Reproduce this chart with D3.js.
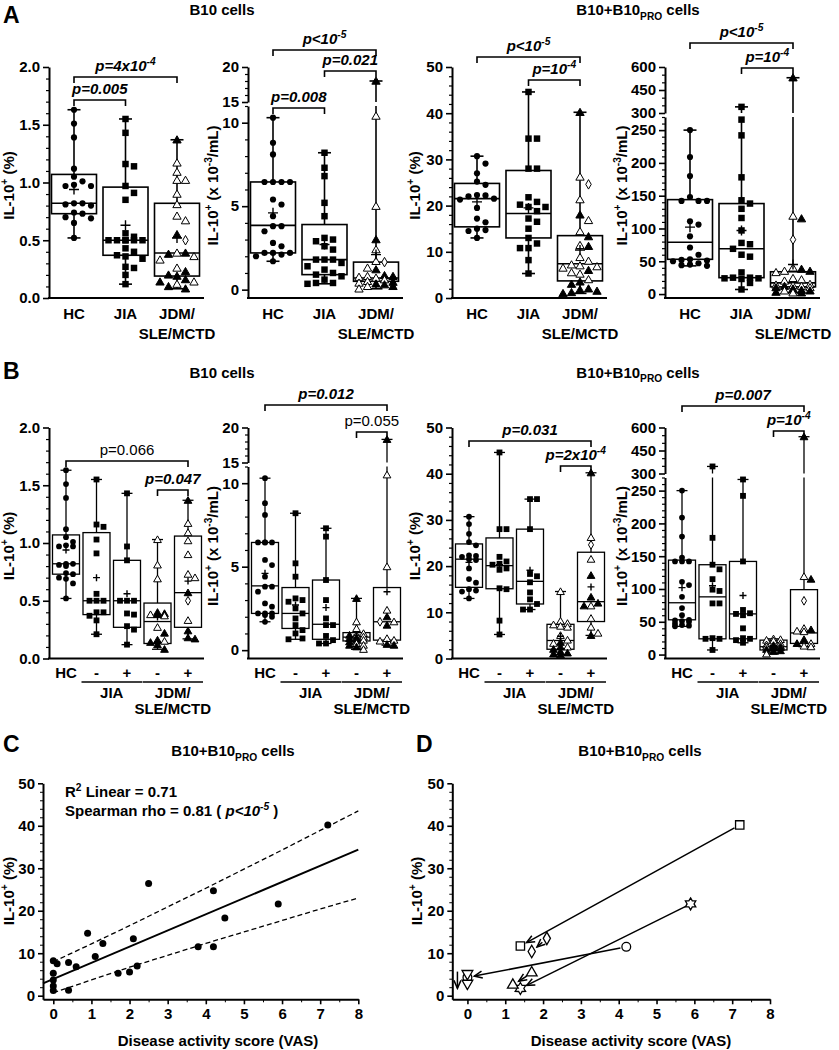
<!DOCTYPE html>
<html><head><meta charset="utf-8">
<script src="https://cdn.jsdelivr.net/npm/d3@7/dist/d3.min.js"></script>
<style>body{margin:0;background:#fff}</style>
</head><body><script>
// ================= DATA =================
const catsA = ["HC", "JIA", "JDM/|SLE/MCTD"];
const signsB = ["HC", "-", "+", "-", "+"];
const groupLabelsB = ["JIA", "JDM/|SLE/MCTD"];
const titlesTop = ["B10 cells", "B10+B10_{PRO} cells"];
const yLabels = ["IL-10^{+} (%)", "IL-10^{+} (x 10^{-3}/mL)", "IL-10^{+} (%)", "IL-10^{+} (x 10^{-3}/mL)"];
const panelLetters = ["A", "B", "C", "D"];

// y tick labels
const ticks1 = [0, 0.5, 1.0, 1.5, 2.0];
const ticks2lo = [0, 5, 10], ticks2hi = [15, 20];
const ticks3 = [0, 10, 20, 30, 40, 50];
const ticks4lo = [0, 50, 100, 150, 200, 250], ticks4hi = [300, 450, 600];
const ticksVAS = [0, 1, 2, 3, 4, 5, 6, 7, 8];
const ticksIL = [0, 10, 20, 30, 40, 50];

// ---- Panel A, B10 % ----
const A1_HC = [1.63,1.51,1.39,1.12,1.05,1.01,0.98,0.97,0.97,0.82,0.82,0.81,0.80,0.74,0.73,0.70,0.69,0.65,0.52];
const A1_JIA = [1.55,1.43,1.16,1.14,0.97,0.91,0.85,0.56,0.53,0.50,0.50,0.50,0.50,0.50,0.50,0.43,0.40,0.37,0.36,0.34,0.27,0.26,0.20,0.12];
const A1_JDM_open = [1.17,1.09,1.02,1.02,0.90,0.81,0.71,0.67,0.39,0.36,0.33,0.26,0.14,0.12];
const A1_JDM_fill = [1.37,0.55,0.39,0.38,0.23,0.20,0.19,0.16,0.14,0.10,0.08];
const A1_JDM_dia = [0.50];
const A1_box = [[0.52,0.73,0.82,1.07,1.63,0.94],[0.12,0.37,0.50,0.96,1.55,0.63],[0.08,0.19,0.39,0.82,1.37,0.52]];
// ---- Panel A, B10 count ----
const A2_HC = [10.3,8.8,8.1,6.45,6.45,6.45,6.45,5.4,5.1,4.4,3.8,3.8,3.5,2.8,2.6,2.2,2.2,2.2,2.1,2.0,1.7];
const A2_JIA = [8.2,7.3,6.8,5.2,4.4,3.1,3.0,2.9,2.6,2.4,1.8,1.8,1.8,1.6,1.4,1.2,1.0,0.9,0.8,0.6,0.4,0.4,0.35];
const A2_JDM_open = [10.4,5.0,2.4,1.7,1.3,0.8,0.75,0.7,0.6,0.5,0.4,0.2,0.05];
const A2_JDM_fill = [18.0,3.0,1.2,0.85,0.8,0.45,0.35,0.3,0.2];
const A2_JDM_dia = [1.65];
const A2_box = [[1.7,2.2,3.85,6.45,10.3,4.6],[0.35,0.9,1.8,3.9,8.2,2.7],[0.05,0.5,0.7,1.65,18.0,2.1]];
// ---- Panel A, B10+B10PRO % ----
const A3_HC = [30.7,29.1,27.0,25.2,24.5,22.3,22.2,22.0,21.5,21.3,19.5,17.2,16.4,15.0,14.7,14.5,13.0];
const A3_JIA = [44.6,34.5,34.5,28.0,28.0,21.8,20.8,20.2,19.7,19.7,18.8,17.2,16.5,15.0,13.0,11.8,10.8,10.8,8.2,5.3];
const A3_JDM_open = [26.2,21.3,16.8,14.4,11.4,8.8,8.0,7.2,7.0,6.8,6.5,5.5,5.2,4.0];
const A3_JDM_fill = [40.2,18.0,13.3,11.2,6.0,3.5,3.0,2.0,1.8,1.5,1.2,1.0];
const A3_JDM_dia = [24.6];
const A3_box = [[13.0,15.4,21.5,24.8,30.7,20.8],[5.3,13.0,18.3,27.6,44.6,19.5],[1.0,3.7,7.4,13.5,40.2,10.4]];
// ---- Panel A, B10+B10PRO count ----
const A4_HC = [250,209,180,148,142,142,142,111,106,88,71,60,53,52,51,50,47,45,44,43];
const A4_JIA = [340,266,242,178,143,138,130,116,97,78,76,69,60,57,33,25,25,24,24,23,17,7];
const A4_JDM_open = [119,40,35,33,24,22,20,15,14,13,12,10,5,2];
const A4_JDM_fill = [530,115,38,35,12,10,8,6,5,3,2];
const A4_JDM_dia = [83];
const A4_box = [[43,53,79,144,250,102],[7,25,69,138,340,97],[2,11,17,34,530,45]];

// ---- Panel B (HC, JIA-, JIA+, JDM-, JDM+) ----
const B1_JIAn = [1.55,1.16,1.14,1.03,0.91,0.56,0.50,0.50,0.50,0.40,0.40,0.37,0.33,0.21];
const B1_JIAp = [1.43,0.97,0.85,0.50,0.50,0.50,0.39,0.38,0.28,0.25,0.12];
const B1_JDMn_open = [1.03,0.81,0.69,0.38,0.37,0.27,0.15];
const B1_JDMn_fill = [0.40,0.39,0.38,0.22,0.16,0.14,0.12,0.08];
const B1_JDMp_open = [1.17,1.09,1.02,0.90,0.73,0.70,0.33];
const B1_JDMp_fill = [1.37,0.57,0.24,0.18,0.17];
const B1_JDMp_dia = [0.50];
const B1_box = [[0.52,0.73,0.82,1.07,1.63,0.94],[0.21,0.38,0.50,1.09,1.55,0.70],[0.12,0.27,0.50,0.85,1.43,0.56],[0.08,0.13,0.32,0.48,1.03,0.36],[0.17,0.27,0.57,1.06,1.37,0.67]];

const B2_JIAn = [8.2,5.2,4.4,3.1,3.0,2.9,2.5,2.2,1.9,1.5,1.2,1.0,0.7,0.65];
const B2_JIAp = [7.3,6.8,4.2,3.0,1.9,1.5,1.5,0.85,0.6,0.4,0.4];
const B2_JDMn_open = [1.7,1.3,1.0,0.9,0.8,0.6,0.4,0.3,0.05];
const B2_JDMn_fill = [3.1,0.9,0.75,0.7,0.6,0.5,0.3,0.2];
const B2_JDMp_open = [10.5,5.0,2.4,1.7,0.7,0.6,0.55];
const B2_JDMp_fill = [18.3,2.0,1.5,0.35,0.3];
const B2_JDMp_dia = [1.7];
const B2_box = [[1.7,2.2,3.85,6.45,10.3,4.6],[0.65,1.3,2.2,3.75,8.2,2.7],[0.4,0.65,1.55,4.2,7.3,2.55],[0.05,0.55,0.78,1.05,3.1,0.9],[0.3,0.6,1.7,3.75,18.3,3.5]];

const B3_JIAn = [44.6,28.0,28.0,22.0,21.0,20.5,20.3,19.5,19.2,15.2,15.0,8.2,5.2];
const B3_JIAp = [34.5,34.5,28.0,18.3,17.8,16.5,14.3,12.8,11.8,10.6,10.6];
const B3_JDMn_open = [14.5,8.1,7.6,7.3,7.0,6.8,5.0,4.0,3.3,2.5];
const B3_JDMn_fill = [3.5,2.5,2.0,1.5,1.2,1.0,0.8];
const B3_JDMp_open = [26.2,21.5,11.4,8.7,6.8,5.5];
const B3_JDMp_fill = [40.2,18.0,13.3,12.0,11.4,5.0];
const B3_JDMp_dia = [24.6];
const B3_box = [[13.0,15.4,21.5,24.8,30.7,20.8],[5.2,15.1,20.1,26.1,44.6,20.3],[10.6,11.8,16.7,28.0,34.5,19.1],[0.8,2.0,3.9,7.4,14.5,4.8],[5.0,8.0,12.3,23.0,40.2,15.5]];

const B4_JIAn = [346,178,137,130,115,99,97,78,78,25,24,24,7];
const B4_JIAp = [267,242,142,68,63,62,60,40,25,24,22,18];
const B4_JDMn_open = [24,23,22,21,17,15,13,12,1];
const B4_JDMn_fill = [14,12,11,10,8,6,5];
const B4_JDMp_open = [119,40,36,35,17,13,12];
const B4_JDMp_fill = [540,115,38,23,17];
const B4_JDMp_dia = [82];
const B4_box = [[43,53,79,144,250,102],[7,24,88,137,346,105],[18,24,62,142,267,90],[1,7,12,22,24,14],[12,17,33,99,540,null]];

// p values
const pvalsA = [["p=4x10^{-4}","p=0.005"],["p<10^{-5}","p=0.021","p=0.008"],["p<10^{-5}","p=10^{-4}"],["p<10^{-5}","p=10^{-4}"]];
const pvalsB = [["p=0.066","p=0.047"],["p=0.012","p=0.055"],["p=0.031","p=2x10^{-4}"],["p=0.007","p=10^{-4}"]];
const pSignifB = [[false,true],[true,false],[true,true],[true,true]];

// ---- Panel C ----
const cVAS = [0,0.1,0,0,0,0,0.4,0.4,0.6,0.9,1.1,1.3,1.7,2.0,2.1,2.2,2.5,3.8,4.2,4.2,4.5,5.9,7.2];
const cIL10 = [8.2,7.5,5.3,3.7,2.3,1.2,1.3,7.8,6.8,14.7,9.2,12.3,5.3,5.6,13.4,7.0,26.4,11.5,11.5,24.7,18.3,21.6,40.2];
const cFitX = [-0.27, 8], cFitY = [2.9, 34.4];
const cBandX = [0,1,2,3,4,5,6,7,8];
const cUpper = [8.0,12.2,16.5,20.9,25.3,29.8,34.3,38.9,43.5];
const cLower = [0.7,3.7,6.7,9.5,12.3,15.0,17.7,20.4,23.0];
const cStats = ["R^{2} Linear = 0.71", "Spearman rho = 0.81 ( *p<10^{-5}* )"];
// ---- Panel D ----
const dShape = ["square","diamond","star","circle","triangle","triangleDown"];
const dVAS1 = [7.2,2.1,5.9,4.2,1.7,0], dIL1 = [40.2,13.5,21.6,11.5,5.4,5.2];
const dVAS2 = [1.4,1.7,1.4,0,1.2,0],   dIL2 = [11.7,10.4,1.7,4.3,2.5,2.9];
const xTitle = "Disease activity score (VAS)";

// ================= DRAWING =================
const FONT = '"Liberation Sans", Arial, Helvetica, sans-serif';
const svg = d3.select("body").append("svg").attr("width", 839).attr("height", 1050)
  .style("font-family", FONT);
svg.append("rect").attr("width", 839).attr("height", 1050).attr("fill", "#fff");

// rich text: ^{sup} _{sub} *italic*
function rich(t, str, size) {
  const parts = str.split(/(\^\{[^}]*\}|_\{[^}]*\}|\*[^*]*\*)/).filter(s => s.length);
  let cur = 0;
  parts.forEach(p => {
    let mode = "", txt = p;
    if (p.startsWith("^{")) { mode = "sup"; txt = p.slice(2, -1); }
    else if (p.startsWith("_{")) { mode = "sub"; txt = p.slice(2, -1); }
    else if (p.startsWith("*")) { mode = "it"; txt = p.slice(1, -1); }
    if (mode === "it") {
      const sub = txt.split(/(\^\{[^}]*\})/).filter(s => s.length);
      sub.forEach(q => {
        let m2 = "", t2 = q;
        if (q.startsWith("^{")) { m2 = "sup"; t2 = q.slice(2, -1); }
        const target = m2 === "sup" ? -0.42 * size : 0;
        const ts = t.append("tspan").text(t2).attr("dy", target - cur).style("font-style", "italic");
        if (m2) ts.style("font-size", (size * 0.68) + "px");
        cur = target;
      });
      return;
    }
    const target = mode === "sup" ? -0.42 * size : mode === "sub" ? 0.3 * size : 0;
    const ts = t.append("tspan").text(txt).attr("dy", target - cur);
    if (mode) ts.style("font-size", (size * 0.68) + "px");
    cur = target;
  });
  return t;
}
function label(g, x, y, str, size, opts = {}) {
  const t = g.append("text").attr("x", x).attr("y", y)
    .attr("text-anchor", opts.anchor || "middle")
    .style("font-size", size + "px")
    .style("font-weight", opts.weight || "bold")
    .style("font-style", opts.style || "normal")
    .attr("fill", "#000");
  if (opts.rotate) t.attr("transform", `rotate(-90,${x},${y})`);
  return rich(t, str, size);
}

// layout
const colX = [49, 248, 452, 665];
const rowTop = [67, 427.5], rowBot = [298, 658.5];
const plotW = 155;
const colCfg = [
  { broken: false, domain: [0, 2], major: ticks1, minor: 0.1, fmt: d3.format(".1f") },
  { broken: true, low: [-0.5, 11], high: [15, 20], lowTopOff: 39, highBotOff: 35, majorLo: ticks2lo, majorHi: ticks2hi, minorLo: 1, minorHi: 1, fmt: d3.format("d") },
  { broken: false, domain: [0, 50], major: ticks3, minor: 2, fmt: d3.format("d") },
  { broken: true, low: [-6, 270], high: [300, 600], lowTopOff: 50, highBotOff: 46, majorLo: ticks4lo, majorHi: ticks4hi, minorLo: 10, minorHi: 50, fmt: d3.format("d") }
];

function axisSeg(g, x, scale, major, minorStep, fmt, from, to) {
  const ax = d3.axisLeft(scale).tickValues(major).tickSize(6).tickSizeOuter(0).tickPadding(3).tickFormat(fmt);
  const ag = g.append("g").attr("transform", `translate(${x},0)`).call(ax)
    .attr("font-family", null).attr("font-size", null);
  ag.select(".domain").attr("stroke", "#000").attr("stroke-width", 2);
  ag.selectAll(".tick line").attr("stroke", "#000").attr("stroke-width", 1.6);
  ag.selectAll(".tick text").style("font-size", "15px").style("font-weight", "bold").attr("fill", "#000");
  const minors = d3.range(from, to + 1e-9, minorStep).filter(v => !major.some(m => Math.abs(m - v) < 1e-9));
  const mg = g.append("g").attr("transform", `translate(${x},0)`)
    .call(d3.axisLeft(scale).tickValues(minors).tickSize(3).tickSizeOuter(0).tickFormat(""));
  mg.select(".domain").remove();
  mg.selectAll(".tick line").attr("stroke", "#000").attr("stroke-width", 1.2);
}

function makeY(cfg, top, bot) {
  if (!cfg.broken) {
    const s = d3.scaleLinear().domain(cfg.domain).range([bot, top]);
    return { f: v => s(v), s };
  }
  const lo = d3.scaleLinear().domain(cfg.low).range([bot, top + cfg.lowTopOff]);
  const hi = d3.scaleLinear().domain(cfg.high).range([top + cfg.highBotOff, top]);
  return { f: v => (v <= cfg.low[1] ? lo(v) : hi(v)), lo, hi, brk: [cfg.low[1], cfg.high[0]] };
}

function drawYAxis(g, x, cfg, Y) {
  if (!cfg.broken) axisSeg(g, x, Y.s, cfg.major, cfg.minor, cfg.fmt, cfg.domain[0], cfg.domain[1]);
  else {
    axisSeg(g, x, Y.lo, cfg.majorLo, cfg.minorLo, cfg.fmt, 0, cfg.low[1]);
    axisSeg(g, x, Y.hi, cfg.majorHi, cfg.minorHi, cfg.fmt, cfg.high[0], cfg.high[1]);
  }
}

function symbolPath(type, size) {
  const map = { circle: d3.symbolCircle, square: d3.symbolSquare, tri: d3.symbolTriangle, triF: d3.symbolTriangle, dia: d3.symbolDiamond };
  return d3.symbol().type(map[type]).size(size)();
}
const symStyle = {
  circle: { fill: "#000", stroke: "none" }, square: { fill: "#000", stroke: "none" },
  triF: { fill: "#000", stroke: "#000" }, tri: { fill: "#fff", stroke: "#000" }, dia: { fill: "#fff", stroke: "#000" }
};

function swarm(pts, yf, step, maxOff) {
  const placed = [];
  pts.slice().sort((a, b) => b.v - a.v).forEach(p => {
    const y = yf(p.v);
    const cands = [0];
    for (let k = 1; k * step <= maxOff + 0.01; k++) cands.push(k * step, -k * step);
    let best = 0, bestD = -1;
    for (const dx of cands) {
      let minD = Infinity;
      for (const q of placed) minD = Math.min(minD, Math.hypot(q.dx - dx, q.y - y));
      if (minD >= step * 0.92) { best = dx; bestD = Infinity; break; }
      if (minD > bestD) { bestD = minD; best = dx; }
    }
    placed.push({ ...p, dx: best, y });
  });
  return placed;
}

function vline(g, x, Y, a, b, w) {
  const seg = (u, v) => g.append("line").attr("x1", x).attr("x2", x).attr("y1", Y.f(u)).attr("y2", Y.f(v))
    .attr("stroke", "#000").attr("stroke-width", w);
  if (Y.brk && a < Y.brk[0] && b > Y.brk[1]) { seg(a, Y.brk[0]); seg(Y.brk[1], b); }
  else seg(a, b);
}

function drawBoxes(g, xs, Y, groups, o) {
  groups.forEach((grp, i) => {
    const cx = xs[i];
    const [mn, q1, md, q3, mx, mean] = grp.box;
    const hw = o.boxW / 2;
    vline(g, cx, Y, q3, mx, o.lw);
    vline(g, cx, Y, mn, q1, o.lw);
    g.append("rect").attr("x", cx - hw).attr("y", Y.f(q3)).attr("width", o.boxW)
      .attr("height", Y.f(q1) - Y.f(q3)).attr("fill", "none").attr("stroke", "#000").attr("stroke-width", o.lw);
    g.append("line").attr("x1", cx - hw).attr("x2", cx + hw).attr("y1", Y.f(md)).attr("y2", Y.f(md))
      .attr("stroke", "#000").attr("stroke-width", o.lw);
    [mn, mx].forEach(v => g.append("line").attr("x1", cx - o.capW / 2).attr("x2", cx + o.capW / 2)
      .attr("y1", Y.f(v)).attr("y2", Y.f(v)).attr("stroke", "#000").attr("stroke-width", o.lw));
    const placed = swarm(grp.pts, Y.f, o.step, o.maxOff);
    placed.forEach(p => {
      const st = symStyle[p.t];
      const sz = o.sizes[p.t];
      g.append("path").attr("d", symbolPath(p.t, sz))
        .attr("transform", `translate(${cx + p.dx},${p.y + (p.t === "tri" || p.t === "triF" ? 0.8 : 0)})`)
        .attr("fill", st.fill).attr("stroke", st.stroke).attr("stroke-width", 1);
    });
    if (mean != null) {
      const my = Y.f(mean), m = o.plus;
      g.append("path").attr("d", `M${cx - m},${my}H${cx + m}M${cx},${my - m}V${my + m}`)
        .attr("stroke", "#000").attr("stroke-width", 1.4).attr("fill", "none");
    }
  });
}

function bracket(g, x1, x2, y, txt, signif) {
  g.append("path").attr("d", `M${x1},${y + 6}V${y}H${x2}V${y + 6}`).attr("fill", "none")
    .attr("stroke", "#000").attr("stroke-width", 1.6);
  label(g, (x1 + x2) / 2, y - 6, txt, 15, { weight: signif ? "bold" : "normal", style: signif ? "italic" : "normal" });
}

const pts = (arr, t) => arr.map(v => ({ v, t }));

const groupsA = [
  [{ box: A1_box[0], pts: pts(A1_HC, "circle") }, { box: A1_box[1], pts: pts(A1_JIA, "square") },
   { box: A1_box[2], pts: [...pts(A1_JDM_open, "tri"), ...pts(A1_JDM_fill, "triF"), ...pts(A1_JDM_dia, "dia")] }],
  [{ box: A2_box[0], pts: pts(A2_HC, "circle") }, { box: A2_box[1], pts: pts(A2_JIA, "square") },
   { box: A2_box[2], pts: [...pts(A2_JDM_open, "tri"), ...pts(A2_JDM_fill, "triF"), ...pts(A2_JDM_dia, "dia")] }],
  [{ box: A3_box[0], pts: pts(A3_HC, "circle") }, { box: A3_box[1], pts: pts(A3_JIA, "square") },
   { box: A3_box[2], pts: [...pts(A3_JDM_open, "tri"), ...pts(A3_JDM_fill, "triF"), ...pts(A3_JDM_dia, "dia")] }],
  [{ box: A4_box[0], pts: pts(A4_HC, "circle") }, { box: A4_box[1], pts: pts(A4_JIA, "square") },
   { box: A4_box[2], pts: [...pts(A4_JDM_open, "tri"), ...pts(A4_JDM_fill, "triF"), ...pts(A4_JDM_dia, "dia")] }]
];
const hcB = [A1_HC, A2_HC, A3_HC, A4_HC];
const bSets = [
  [B1_JIAn, B1_JIAp, B1_JDMn_open, B1_JDMn_fill, B1_JDMp_open, B1_JDMp_fill, B1_JDMp_dia, B1_box],
  [B2_JIAn, B2_JIAp, B2_JDMn_open, B2_JDMn_fill, B2_JDMp_open, B2_JDMp_fill, B2_JDMp_dia, B2_box],
  [B3_JIAn, B3_JIAp, B3_JDMn_open, B3_JDMn_fill, B3_JDMp_open, B3_JDMp_fill, B3_JDMp_dia, B3_box],
  [B4_JIAn, B4_JIAp, B4_JDMn_open, B4_JDMn_fill, B4_JDMp_open, B4_JDMp_fill, B4_JDMp_dia, B4_box]
];
const groupsB = bSets.map((s, k) => [
  { box: s[7][0], pts: pts(hcB[k], "circle") },
  { box: s[7][1], pts: pts(s[0], "square") },
  { box: s[7][2], pts: pts(s[1], "square") },
  { box: s[7][3], pts: [...pts(s[2], "tri"), ...pts(s[3], "triF")] },
  { box: s[7][4], pts: [...pts(s[4], "tri"), ...pts(s[5], "triF"), ...pts(s[6], "dia")] }
]);

const bracketsA = [[[0, 2, 77], [0, 1, 100]], [[0, 2, 50], [1, 2, 71], [0, 1, 108]], [[0, 2, 57], [1, 2, 80]], [[0, 2, 43], [1, 2, 68]]];
const bracketsB = [[[0, 4, 461], [3, 4, 490]], [[0, 4, 405], [3, 4, 432]], [[0, 4, 441], [3, 4, 466]], [[0, 4, 406], [3, 4, 431]]];
const yLabX = [14, 218, 420, 627];

// ---- Panels A and B ----
[0, 1].forEach(row => {
  const top = rowTop[row], bot = rowBot[row];
  const off = row === 0 ? 0 : 360.5;
  label(svg, 3, 23 + off - (row ? 5 : 0), panelLetters[row], 23, { anchor: "start" });
  label(svg, 222, 15 + off + (row ? 2 : 0), titlesTop[0], 15);
  label(svg, 638, 15 + off + (row ? 2 : 0), titlesTop[1], 15);
  colCfg.forEach((cfg, k) => {
    const g = svg.append("g");
    const x0 = colX[k];
    const Y = makeY(cfg, top, bot);
    const nCat = row === 0 ? 3 : 5;
    const xs = row === 0
      ? d3.scalePoint().domain(d3.range(3)).range([x0 + 25, x0 + 128])
      : d3.scalePoint().domain(d3.range(5)).range([x0 + 17, x0 + 139]);
    const xpos = d3.range(nCat).map(i => xs(i));
    g.append("line").attr("x1", x0 - 1).attr("x2", x0 + plotW).attr("y1", bot).attr("y2", bot)
      .attr("stroke", "#000").attr("stroke-width", 2);
    drawYAxis(g, x0, cfg, Y);
    label(g, yLabX[k], (top + bot) / 2 + 3, yLabels[k], 15, { rotate: true });
    const opts = row === 0
      ? { boxW: 45, capW: 13, lw: 1.6, step: 8.5, maxOff: 19, plus: 5, sizes: { circle: 30, square: 42, tri: 30, triF: 30, dia: 26 } }
      : { boxW: 27, capW: 11, lw: 1.3, step: 7, maxOff: 11, plus: 3.5, sizes: { circle: 26, square: 34, tri: 26, triF: 26, dia: 22 } };
    drawBoxes(g, xpos, Y, row === 0 ? groupsA[k] : groupsB[k], opts);
    const br = row === 0 ? bracketsA[k] : bracketsB[k];
    br.forEach((b, j) => {
      const txt = row === 0 ? pvalsA[k][j] : pvalsB[k][j];
      const sig = row === 0 ? true : pSignifB[k][j];
      bracket(g, xpos[b[0]], xpos[b[1]], b[2], txt, sig);
    });
    if (row === 0) {
      catsA.forEach((c, i) => {
        c.split("|").forEach((line, li) => label(g, xpos[i], 319 + li * 20, line, 15));
      });
    } else {
      signsB.forEach((s, i) => label(g, xpos[i], 678, s, 15));
      [[1, 2], [3, 4]].forEach((pr, j) => {
        const xa = xpos[pr[0]] - 15, xb = xpos[pr[1]] + 15;
        g.append("line").attr("x1", xa).attr("x2", xb).attr("y1", 682).attr("y2", 682)
          .attr("stroke", "#000").attr("stroke-width", 1.6);
        groupLabelsB[j].split("|").forEach((line, li) => label(g, (xa + xb) / 2, 698 + li * 16, line, 15));
      });
    }
  });
});

// ---- Panels C and D ----
const yCD = d3.scaleLinear().domain([-0.85, 50]).range([999.3, 783.3]);
function scatterAxes(g, xS, x0, titleX, yLabelX) {
  const yAx = g.append("g").attr("transform", `translate(${x0},0)`)
    .call(d3.axisLeft(yCD).tickValues(ticksIL).tickSize(5).tickSizeOuter(0).tickPadding(3))
    .attr("font-family", null).attr("font-size", null);
  const xAx = g.append("g").attr("transform", `translate(0,999.3)`)
    .call(d3.axisBottom(xS).tickValues(ticksVAS).tickSize(5).tickSizeOuter(0).tickPadding(4))
    .attr("font-family", null).attr("font-size", null);
  [yAx, xAx].forEach(a => {
    a.select(".domain").attr("stroke", "#000").attr("stroke-width", 2);
    a.selectAll(".tick line").attr("stroke", "#000").attr("stroke-width", 1.6);
    a.selectAll(".tick text").style("font-size", "15px").style("font-weight", "bold").attr("fill", "#000");
  });
  const my = g.append("g").attr("transform", `translate(${x0},0)`)
    .call(d3.axisLeft(yCD).tickValues(d3.range(2, 50, 2).filter(v => v % 10)).tickSize(3).tickFormat(""));
  my.select(".domain").remove();
  const mx = g.append("g").attr("transform", `translate(0,999.3)`)
    .call(d3.axisBottom(xS).tickValues(d3.range(0.5, 8, 1)).tickSize(3).tickFormat(""));
  mx.select(".domain").remove();
  g.selectAll(".tick line").attr("stroke", "#000");
  label(g, titleX, 1046, xTitle, 15);
  label(g, yLabelX, 891, yLabels[0], 15, { rotate: true });
}

// C
{
  const g = svg.append("g");
  const xC = d3.scaleLinear().domain([-0.27, 8]).range([43, 358.3]);
  label(g, 3, 752, panelLetters[2], 23, { anchor: "start" });
  label(g, 233, 756, titlesTop[1], 15);
  scatterAxes(g, xC, 43, 218, 14);
  const line = d3.line().x(d => xC(d[0])).y(d => yCD(d[1]));
  g.append("path").attr("d", line(cFitX.map((x, i) => [x, cFitY[i]]))).attr("stroke", "#000").attr("stroke-width", 2).attr("fill", "none");
  const curve = d3.line().curve(d3.curveMonotoneX).x(d => xC(d[0])).y(d => yCD(d[1]));
  [cUpper, cLower].forEach(arr => g.append("path").attr("d", curve(cBandX.map((x, i) => [x, arr[i]])))
    .attr("stroke", "#000").attr("stroke-width", 1.3).attr("stroke-dasharray", "5,3").attr("fill", "none"));
  cVAS.forEach((x, i) => g.append("circle").attr("cx", xC(x)).attr("cy", yCD(cIL10[i])).attr("r", 3.5).attr("fill", "#000"));
  label(g, 65, 797, cStats[0], 15, { anchor: "start" });
  label(g, 65, 816, cStats[1], 15, { anchor: "start" });
}

// D
{
  const g = svg.append("g");
  const xD = d3.scaleLinear().domain([-0.4, 8]).range([452.3, 770]);
  label(g, 416, 752, panelLetters[3], 23, { anchor: "start" });
  label(g, 640, 756, titlesTop[1], 15);
  scatterAxes(g, xD, 452.3, 631, 422);
  const defs = svg.append("defs");
  defs.append("marker").attr("id", "arr").attr("viewBox", "-10 -6 12 12").attr("refX", 0).attr("refY", 0)
    .attr("markerWidth", 12).attr("markerHeight", 12).attr("markerUnits", "userSpaceOnUse").attr("orient", "auto")
    .append("path").attr("d", "M-8,-3.5L0,0L-8,3.5").attr("fill", "none").attr("stroke", "#000").attr("stroke-width", 1.5);
  const star = r => {
    const p = [];
    for (let i = 0; i < 12; i++) {
      const a = -Math.PI / 2 + i * Math.PI / 6, rr = i % 2 ? r * 0.58 : r;
      p.push([rr * Math.cos(a), rr * Math.sin(a)]);
    }
    return "M" + p.map(q => q.join(",")).join("L") + "Z";
  };
  const shapePath = s => {
    if (s === "square") return d3.symbol().type(d3.symbolSquare).size(70)();
    if (s === "diamond") return d3.symbol().type(d3.symbolDiamond).size(45)();
    if (s === "circle") return d3.symbol().type(d3.symbolCircle).size(60)();
    if (s === "triangle") return d3.symbol().type(d3.symbolTriangle).size(50)();
    if (s === "triangleDown") return d3.symbol().type(d3.symbolTriangle).size(50)();
    return star(6);
  };
  dShape.forEach((s, i) => {
    const x1 = xD(dVAS1[i]), y1 = yCD(dIL1[i]), x2 = xD(dVAS2[i]), y2 = yCD(dIL2[i]);
    if (Math.abs(x1 - x2) < 0.5) {
      g.append("line").attr("x1", x1 - 10).attr("x2", x1 - 10).attr("y1", y1 - 2).attr("y2", y2 + 5)
        .attr("stroke", "#000").attr("stroke-width", 1.5).attr("marker-end", "url(#arr)");
    } else {
      const L = Math.hypot(x2 - x1, y2 - y1), ux = (x2 - x1) / L, uy = (y2 - y1) / L;
      g.append("line").attr("x1", x1 + ux * 6).attr("y1", y1 + uy * 6).attr("x2", x2 - ux * 7).attr("y2", y2 - uy * 7)
        .attr("stroke", "#000").attr("stroke-width", 1.5).attr("marker-end", "url(#arr)");
    }
    [[x1, y1], [x2, y2]].forEach(([x, y]) => {
      g.append("path").attr("d", shapePath(s))
        .attr("transform", `translate(${x},${y})${s === "triangleDown" ? " rotate(180)" : ""}`)
        .attr("fill", "#fff").attr("stroke", "#000").attr("stroke-width", 1.3);
    });
  });
}
</script></body></html>
